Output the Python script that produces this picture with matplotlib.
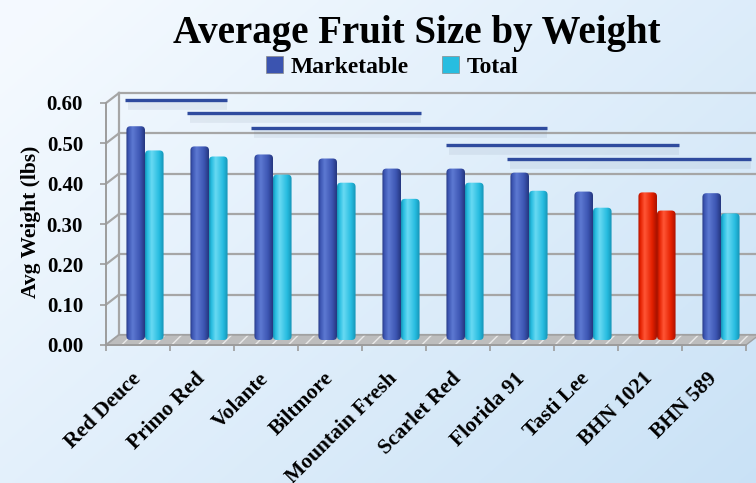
import numpy as np
import matplotlib
matplotlib.use('Agg')
from matplotlib import pyplot as plt
from matplotlib.colors import LinearSegmentedColormap
from matplotlib.patches import Polygon, FancyBboxPatch
from matplotlib.transforms import ScaledTranslation

# data
varieties = ['Red Deuce', 'Primo Red', 'Volante', 'Biltmore', 'Mountain Fresh',
             'Scarlet Red', 'Florida 91', 'Tasti Lee', 'BHN 1021', 'BHN 589']
marketable = [0.53, 0.48, 0.46, 0.45, 0.425, 0.425, 0.415, 0.368, 0.366, 0.364]
total = [0.47, 0.455, 0.41, 0.39, 0.35, 0.39, 0.37, 0.328, 0.321, 0.314]
highlight = 'BHN 1021'

# significance bars (x in category units, y in lbs)
grp_x0 = [-0.20, 0.77, 1.77, 4.81, 5.77]
grp_x1 = [1.39, 4.42, 6.39, 8.45, 9.58]
grp_y = [0.607, 0.574, 0.539, 0.496, 0.460]

yticks = [0.0, 0.1, 0.2, 0.3, 0.4, 0.5, 0.6]

serif = ['Liberation Serif', 'DejaVu Serif']
plt.rcParams['font.family'] = serif
plt.rcParams['font.weight'] = 'bold'

W, H = 756, 483
fig = plt.figure(figsize=(W/100, H/100), dpi=100)

# background gradient
bg = fig.add_axes([0, 0, 1, 1], zorder=-5)
gx, gy = np.meshgrid(np.linspace(0, 1, 300), np.linspace(0, 1, 200))
t = np.clip(0.55*gx + 0.45*gy - 0.05*(1-gx), 0, 1)[..., None]
c0 = np.array([0.96, 0.98, 1.0])
c1 = np.array([0.79, 0.885, 0.965])
bg.imshow(c0*(1-t) + c1*t, extent=(0, 1, 0, 1), aspect='auto', origin='upper')
bg.axis('off')

# front frame of the 3d box: 106..746 px wide, 0 at y=345, 0.6 at y=103
ax = fig.add_axes([106/W, (H-345)/H, 640/W, 242/H])
ax.patch.set_visible(False)
ax.set_xlim(-0.5, 9.5)
ax.set_ylim(0, 0.6)

px_x = 10/640   # one pixel in category units
px_y = 0.6/242  # one pixel in lbs
dx, dy = 13*px_x, 10*px_y       # back wall offset
bdx, bdy = 7*px_x, 5*px_y       # bar row offset
grid_c = '#a6a6a6'

# back wall + side wall grid
for v in yticks:
    ax.plot([-0.5+dx, 9.5+dx+0.2], [v+dy, v+dy], color=grid_c, lw=1.6, clip_on=False, zorder=1)
    ax.plot([-0.5, -0.5+dx], [v, v+dy], color=grid_c, lw=1.6, clip_on=False, zorder=1)
ax.plot([-0.5+dx, -0.5+dx], [dy, 0.6+dy], color=grid_c, lw=1.6, clip_on=False, zorder=1)

# floor
floor_pts = [(-0.5, 0), (9.5, 0), (9.5+dx, dy), (-0.5+dx, dy)]
ax.add_patch(Polygon(floor_pts, closed=True, facecolor='#bdbdbd', edgecolor='#e8e8e8',
                     hatch='//', lw=0, clip_on=False, zorder=2))
ax.add_patch(Polygon(floor_pts, closed=True, fill=False, edgecolor='#a0a0a0', lw=1.0,
                     clip_on=False, zorder=2))

x = np.arange(len(varieties))
bw = 0.29
bars_m = ax.bar(x - bw/2 + bdx, marketable, width=bw, bottom=bdy, color='#3b54b0',
                label='Marketable', zorder=3)
bars_t = ax.bar(x + bw/2 + bdx, total, width=bw, bottom=bdy, color='#27bde0',
                label='Total', zorder=3)


def cyl_cmap(dark, base, light):
    return LinearSegmentedColormap.from_list('c', [(0, dark), (0.12, base), (0.35, light),
                                                   (0.75, base), (1, dark)])

cm_m = cyl_cmap('#25377f', '#3c55b2', '#5d79d2')
cm_t = cyl_cmap('#1593b6', '#26bce0', '#68daf3')
cm_r = cyl_cmap('#a81200', '#e42000', '#ff5535')
prof = np.linspace(0, 1, 64)[None, :]

for bars in (bars_m, bars_t):
    for i, b in enumerate(bars):
        if varieties[i] == highlight:
            cm = cm_r
        else:
            cm = cm_m if bars is bars_m else cm_t
        x0, y0, w, h = b.get_x(), b.get_y(), b.get_width(), b.get_height()
        clip = FancyBboxPatch((x0, y0), w, h, boxstyle='round,pad=0,rounding_size=%f' % (4*px_x),
                              mutation_aspect=px_y/px_x, transform=ax.transData,
                              facecolor='none', edgecolor='none')
        ax.add_patch(clip)
        im = ax.imshow(cm(prof), extent=(x0, x0+w, y0, y0+h), aspect='auto',
                       zorder=3.5, interpolation='bilinear')
        im.set_clip_path(clip)
        b.set_alpha(0)

# significance lines with soft shadow
for a, b_, yv in zip(grp_x0, grp_x1, grp_y):
    ax.plot([a+0.05, b_], [yv-5*px_y, yv-5*px_y], color='#7a8aa0', alpha=0.12, lw=7,
            solid_capstyle='butt', clip_on=False, zorder=4)
    ax.plot([a, b_], [yv, yv], color='#2f4b9e', lw=2.4, solid_capstyle='butt',
            clip_on=False, zorder=5)

# axes styling
for s in ('top', 'right'):
    ax.spines[s].set_visible(False)
for s in ('left', 'bottom'):
    ax.spines[s].set_color('#9c9c9c')
    ax.spines[s].set_linewidth(1.4)
ax.set_yticks(yticks)
ax.set_yticklabels(['%.2f' % v for v in yticks])
ax.tick_params(axis='y', length=4.5, width=1.2, color='#9c9c9c', pad=12, labelsize=15)
ax.set_xticks(np.arange(-0.5, 10, 1.0))
ax.set_xticklabels([])
ax.tick_params(axis='x', which='major', length=4.5, width=1.2, color='#9c9c9c')
ax.set_xticks(x, minor=True)
ax.set_xticklabels(varieties, minor=True, rotation=45, ha='right', rotation_mode='anchor')
ax.tick_params(axis='x', which='minor', length=0, pad=17, labelsize=15.5)
for lab in ax.get_xticklabels(minor=True):
    lab.set_transform(lab.get_transform() + ScaledTranslation(-0.07, 0, fig.dpi_scale_trans))

fig.text(31/W, 1 - 222/H, 'Avg Weight (lbs)', rotation=90, ha='center', va='center',
         fontsize=15.5, fontweight='bold')

fig.text(417/W, 1 - 43/H, 'Average Fruit Size by Weight', ha='center', va='baseline',
         fontsize=28, fontweight='bold')

leg = fig.legend(handles=[bars_m, bars_t], labels=['Marketable', 'Total'], ncol=2,
                 loc='center', bbox_to_anchor=(392/W, 1 - 67/H), frameon=False,
                 prop={'family': serif, 'weight': 'bold', 'size': 17},
                 handlelength=0.75, handleheight=0.75, handletextpad=0.3, columnspacing=1.4)
for hp, c in zip(leg.legend_handles, ['#3b54b0', '#27bde0']):
    hp.set_alpha(1)
    hp.set_facecolor(c)
    hp.set_edgecolor('#8a8a8a')
    hp.set_linewidth(0.5)

fig.savefig('out.png', dpi=100)
